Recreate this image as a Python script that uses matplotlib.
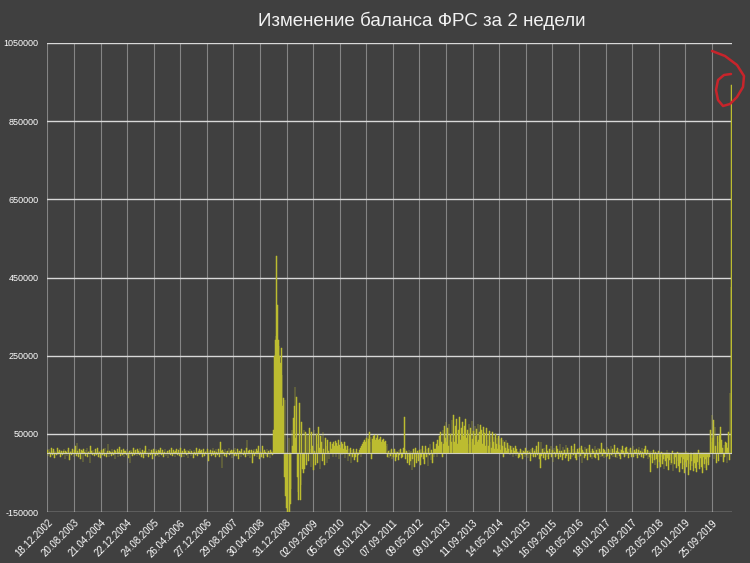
import numpy as np
import pandas as pd
import matplotlib
matplotlib.use("Agg")
import matplotlib.pyplot as plt
from matplotlib.lines import Line2D

# 2-week change of the Fed balance sheet, thousands (millions USD / 1000), weekly from 18.12.2002
calm_2003_2008 = [
    8, -6, 12, 3, -9, 14, 5, -4, 10, -12, 6, 2, -3, 15, -5, 4, 9, -8, 3, 6,
    -4, 7, 12, -15, 5, 3, -7, 9, 14, -18, 4, 6, -5, 11, 2, -9, 8, 18, -6, 27,
    5, -8, 10, 3, -14, 9, 6, -22, 12, 4, -6, 8, 15, -10, 3, 7, -25, 18, 5, -4,
    9, 2, -7, 11, 4, -5, 13, -9, 6, 3, -12, 8, 5, -3, 10, -6, 14, 2, -8, 7,
    25, -10, 6, 4, -7, 12, 3, -5, 9, -14, 6, 2, 11, -8, 4, 16, -6, 3, 8, -4,
    12, -9, 5, 7, -3, 10, 4, -11, 6, -25, 8, 3, -6, 14, 5, -4, 9, 2, -7, 11,
    6, -5, 13, 3, -8, 9, 4, -12, 7, 18, -6, 5, 2, -9, 11, 4, -3, 8, -14, 6,
    10, 3, -7, 12, 5, -4, 8, -10, 6, 15, -5, 3, 9, -8, 4, 11, -6, 2, 7, -12,
    5, 9, -4, 13, 3, -7, 8, 4, -10, 6, 12, -5, 3, 9, -6, 14, 4, -8, 5, 2,
    -9, 11, 6, -4, 8, -13, 5, 3, 10, -6, 7, 2, -11, 9, 4, -5, 15, 3, -7, 6,
    10, -4, 5, 8, -9, 3, 12, -6, 4, 7, -5, 11, -20, 6, 3, 9, -7, 5, 13, -4,
    6, -8, 10, 3, -5, 12, 4, -9, 30, 6, -37, 8, 3, -6, 11, 5, -10, 7, 2, 14,
    -5, 6, 9, -12, 4, 8, -7, 13, 3, -6, 10, 5, -15, 7, 4, -8, 12, 2, -5, 9,
    6, -10, 14, 34, -6, 5, 8, -12, 4, 9, -25, 6, 11, -7, 3, 10, -9, 5, 20, -14,
    7, 4, -8, 20, 5, -11, 9, 3, -6, 12, -9, 6, 4, -13, 8, 3, -5, 7,
]
crisis_2008 = [
    60, 250, 290, 300, 505, 380, 290, 275, 250, 230, 270, 200, 120, 142,
    -60, 137, -110, -140, -150, -150, 40, -150, -130, -90, 60,
    20, 90, 120, 171, 40, 145, -60, -100, -119, 129, -119, -80, 80, -40,
    -50, 60, -40, 55, -30, 50,
]
qe1_2009 = [
    45, -20, 65, 10, -35, 55, 20, -42, 60, 5,
    -30, 50, 25, -25, 68, 15, -40, 45, 30, -20,
    55, 10, -30, 40, 20, -25, 35, 5, -15, 30,
]
pause_2010 = [
    30, 12, 25, -10, 28, 18, 32, -8, 26, 20,
    34, -15, 22, 15, 30, -5, 24, 10, 28, -12,
    18, 8, 20, -20, 12, -6, 15, -25, 8, -10,
    12, -18, 5, -8, 10, -22, 4, -5, 8,
]
qe2_2011 = [
    15, -8, 20, 25, 30, 22, 35, 28, 40, 32,
    45, 38, 55, 30, 42, -15, 36, 44, 30, 48,
    35, 40, 28, 46, 33, 38, 25, 42, 30, 35,
    22, 38, 28, 32, 20, 25,
]
twist_2012 = [
    -10, 5, -12, 8, -6, 10, -15, 4, -8, 12,
    -20, 6, -10, 3, -18, 8, -5, 10, -12, 4,
    -8, 15, 94, 12, -15, 5, -25, -10, 8, -30,
    -20, 6, -43, -15, 10, -35, -8, 14, -25, 5,
    -12, -20, 8, -30, 12, -10, 18, -15, 6, -28,
    20, -8, 10, -32, 15, -5, 25, -18, 8, -25,
    30, -10, 12,
]
qe3_2013_2014 = [
    10, 25, -8, 35, 20, 45, 15, 55, 30, -10, 60, 25, 70, 40, 81, 30, 65, 20, 75, 35,
    50, 28, 85, 40, 98, 30, 70, 45, 88, 25, 60, 50, 92, 35, 65, 20, 80, 45, 70, 30,
    88, 40, 60, 25, 75, 50, 66, 30, 82, 38, 58, 22, 70, 45, 62, 28, 74, 35, 55, 72,
    30, 60, 25, 68, 40, 52, 20, 64, 35, 48, 18, 58, 30, 45, 15, 55, 28, 42, 12, 50,
    25, 40, 10, 45, 22, 36, 8, 40, 18, 34, -8, 30, 15, 34, 6, 26, 12, 22, -5, 20,
    8, 18, -10, 15, 5, 20, -6, 12, 4, -12,
]
flat_2014_2017 = [
    5, -8, 12, -4, 8, -15, 6, 3, -10, 14, -5, 7, -12, 9, 4, -20, 10, -6, 15, -8,
    6, 12, -10, 20, -5, 8, 30, -15, -37, 28, -6, 10, -12, 15, 4, -18, 22, -8, 6, -14,
    12, -5, 18, -10, 8, -22, 14, 3, -9, 20, -6, 11, -15, 7, 25, -10, 5, -18, 16, -4,
    9, -12, 22, -6, 13, -20, 8, 4, -14, 18, -8, 10, -5, 24, -12, 6, -16, 12, 3, -10,
    15, -7, 20, -25, 9, 4, -12, 17, -6, 10, -18, 13, -4, 21, -9, 7, -14, 11, 5, -8,
    19, -11, 8, -5, 14, -16, 10, 3, -9, 26, -7, 12, -13, 9, 4, -10, 16, -6, 11, -15,
    8, 18, -4, 12, -10, 7, 22, -8, 5, -12, 15, 3, -7, 11, -14, 9, 20, -5, 6, -9,
    13, -6, 17, 4, -11, 10, -4, 15, -8, 7, 18, -10, 9, 3, -6, 12, -13, 8, 16, -5,
    7, -9, 14, 3, -12, 10, -6, 20, -4, 8, -15, 6, -8,
]
qt_2017_2019 = [
    -47, 5, -12, -25, 8, -18, -30, 4, -15, -38, -8, 6, -22, -35, -10, 3, -28, -15, -40, -5,
    -20, -32, 8, -12, -42, -18, -6, -30, -25, 5, -45, -15, -28, -10, -38, -20, 4, -33, -48, -12,
    -25, -8, -40, -30, -15, -50, -22, 6, -35, -18, -56, -28, -10, -42, -20, -32, -5, -45, -25, -38,
    -15, -48, -22, 8, -30, -40, -12, -35, -20, -50, -10, -28, -38, -15, -42, -8, -25, -30, -10,
]
repo_2019_2020 = [
    60, 30, 98, 40, 85, -15, 68, 20, -25, 45,
    30, -20, 47, 68, -10, 35, 15, -22, 21, -8,
    30, 26, -25, 15, 55, -18,
    154, 426, 942,
]

values = np.array(calm_2003_2008 + crisis_2008 + qe1_2009 + pause_2010 + qe2_2011
                  + twist_2012 + qe3_2013_2014 + flat_2014_2017 + qt_2017_2019
                  + repo_2019_2020) * 1000
dates = pd.date_range("2002-12-18", periods=len(values), freq="7D")
tick_step = 35
y_ticks = list(range(-150000, 1050001, 200000))

title = "Изменение баланса ФРС за 2 недели"
bg = "#404040"
bar_color = "#bcbc30"
font = ["Liberation Sans", "DejaVu Sans"]

fig = plt.figure(figsize=(7.5, 5.63), dpi=100, facecolor=bg)
ax = fig.add_axes([47 / 750, 1 - 512 / 563, (732 - 47) / 750, (512 - 43) / 563])
ax.set_facecolor(bg)

x = np.arange(len(values))
ax.bar(x, values, width=0.9, color=bar_color, edgecolor=bar_color,
       linewidth=0.35, zorder=2)
ax.axhline(0, color="#d0d0c0", lw=0.8, zorder=3)

ax.set_ylim(y_ticks[0], y_ticks[-1])
ax.set_xlim(-0.5, len(values) - 0.5)
ax.set_yticks(y_ticks)
ax.set_yticklabels([str(v) for v in y_ticks], family=font, fontsize=6.5, color="white")

tick_pos = x[::tick_step]
ax.set_xticks(tick_pos)
ax.set_xticklabels([dates[i].strftime("%d.%m.%Y") for i in tick_pos],
                   rotation=45, ha="right", rotation_mode="anchor",
                   family=font, fontsize=7, color="white")
ax.tick_params(axis="both", length=0)
ax.tick_params(axis="y", pad=6)
ax.tick_params(axis="x", pad=4)

for v in y_ticks:
    ax.axhline(v, color="#d9d9d9", lw=1.0, zorder=1)
for p in tick_pos:
    ax.axvline(p, color="#858585", lw=0.8, zorder=0.5)
for s in ax.spines.values():
    s.set_visible(False)

fig.text(422 / 750, 1 - 21 / 563, title, ha="center", va="center",
         family=font, fontsize=13.5, color="#f2f2f2")

# hand-drawn red loop around the last spike
loop = [(712, 51), (725, 56), (737, 65), (744, 76), (743, 87), (737, 97),
        (730, 104), (723, 106), (718, 100), (716, 90), (718, 80), (724, 75), (731, 74)]
fig.add_artist(Line2D([p[0] / 750 for p in loop], [1 - p[1] / 563 for p in loop],
                      transform=fig.transFigure, color="#c8242b", lw=1.8,
                      solid_capstyle="round", solid_joinstyle="round"))

fig.savefig("out.png", dpi=100, facecolor=bg)
